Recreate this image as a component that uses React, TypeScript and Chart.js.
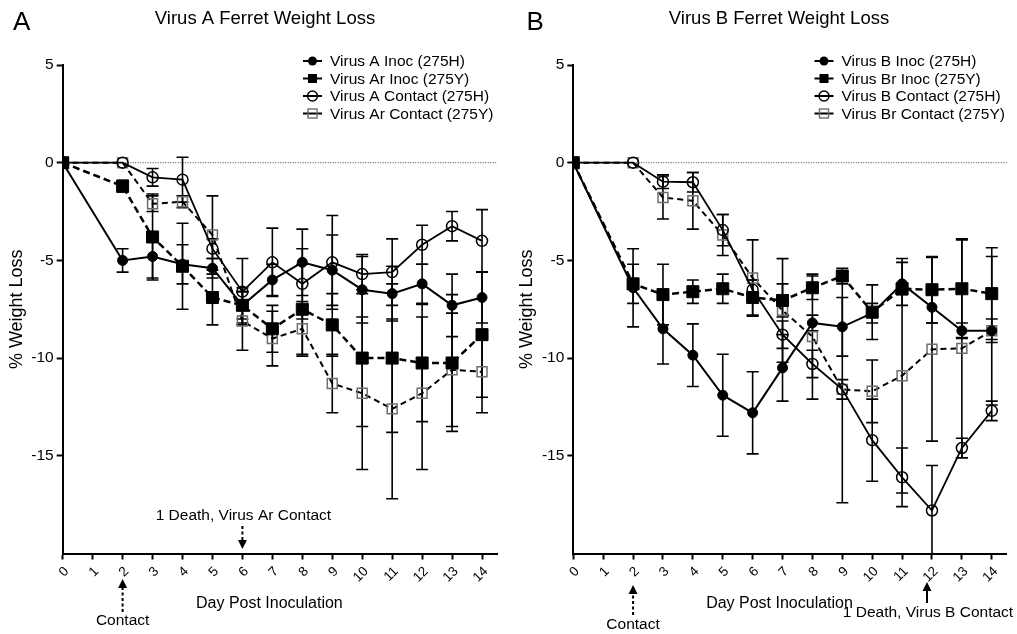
import React, { useEffect, useRef } from "react";
import { Chart, registerables } from "chart.js";

Chart.register(...registerables);

const FONT = "'Liberation Sans', Arial, Helvetica, sans-serif";
Chart.defaults.font.family = FONT;
Chart.defaults.color = "#000";

// ---------- DATA ----------
const days = [0, 1, 2, 3, 4, 5, 6, 7, 8, 9, 10, 11, 12, 13, 14];
const yTickValues = [5, 0, -5, -10, -15];

// Panel A
const virusAInoc = [0, null, -5.0, -4.8, -5.2, -5.4, -7.3, -6.0, -5.1, -5.5, -6.5, -6.7, -6.2, -7.3, -6.9];
const virusAInocErr = [0, null, 0.6, 1.1, 1.0, 0.5, 0.7, 0.8, 1.7, 1.8, 1.7, 1.4, 1.0, 1.6, 1.3];
const virusArInoc = [0, null, -1.2, -3.8, -5.3, -6.9, -7.3, -8.5, -7.5, -8.3, -10.0, -10.0, -10.25, -10.25, -8.8];
const virusArInocErr = [0, null, 0.3, 2.2, 2.2, 1.4, 0.9, 1.2, 2.3, 1.6, 3.5, 3.8, 3.0, 3.5, 3.2];
const virusAContact = [0, null, 0, -0.75, -0.87, -4.4, -6.6, -5.1, -6.2, -5.1, -5.7, -5.6, -4.2, -3.25, -4.0];
const virusAContactErr = [0, null, 0, 0.45, 1.15, 0.5, 1.7, 1.75, 1.8, 2.4, 1.0, 1.7, 1.0, 0.75, 1.6];
const virusArContact = [0, null, 0, -2.1, -2.0, -3.7, -8.1, -9.0, -8.5, -11.3, -11.8, -12.6, -11.8, -10.6, -10.7];
const virusArContactErr = [0, null, 0, 0.4, 0.3, 2.0, 1.5, 1.4, 1.4, 1.5, 3.9, 4.6, 3.9, 2.9, 2.1];

// Panel B
const virusBInoc = [0, null, -6.4, -8.5, -9.85, -11.9, -12.8, -10.5, -8.2, -8.4, -7.7, -6.2, -7.4, -8.6, -8.6];
const virusBInocErr = [0, null, 2.0, 1.8, 1.6, 2.1, 2.1, 1.7, 0.4, 1.5, 0.5, 1.1, 0.8, 0.4, 0.6];
const virusBrInoc = [0, null, -6.2, -6.75, -6.6, -6.45, -6.9, -7.05, -6.4, -5.8, -7.65, -6.45, -6.5, -6.45, -6.7];
const virusBrInocErr = [0, null, 1.0, 1.55, 0.6, 0.75, 0.9, 0.85, 0.6, 0.4, 1.4, 0.3, 1.7, 2.5, 2.35];
const virusBContact = [0, null, 0, -0.97, -1.0, -3.45, -6.5, -8.8, -10.3, -11.6, -14.2, -16.1, -17.8, -14.6, -12.7];
const virusBContactErr = [0, null, 0, 0.35, 0.5, 0.8, 0.5, 0.7, 0.7, 5.8, 2.1, 1.5, 2.3, 0.5, 0.5];
const virusBrContact = [0, null, 0, -1.78, -1.95, -3.7, -5.9, -7.56, -8.9, -11.6, -11.7, -10.9, -9.55, -9.5, -8.6];
const virusBrContactErr = [0, null, 0, 1.1, 1.45, 1.05, 1.95, 2.65, 3.2, 0.5, 1.6, 6.0, 4.7, 5.6, 3.8];

// ---------- TYPES ----------
type Kind = "inocH" | "inocY" | "contH" | "contY";
interface SeriesDef {
  label: string;
  kind: Kind;
  values: (number | null)[];
  errors: (number | null)[];
}
interface Annot {
  text: string;
  day: number;
  dx: number;
  textY: number;
  tipY: number;
  tailY: number;
  dashed: boolean;
  textDx: number;
  fontSize: number;
}
interface PanelDef {
  left: number;
  width: number;
  yAxisWidth: number;
  rightPad: number;
  letter: string;
  letterX: number;
  title: string;
  titleX: number;
  legendX: number;
  series: SeriesDef[];
  annots: Annot[];
  yTitlePad: number;
}

const panelA: PanelDef = {
  left: 0,
  width: 508,
  yAxisWidth: 62.7,
  rightPad: 11,
  letter: "A",
  letterX: 13,
  title: "Virus A Ferret Weight Loss",
  titleX: 265,
  legendX: 312.5,
  yTitlePad: 6,
  series: [
    { label: "Virus A Inoc (275H)", kind: "inocH", values: virusAInoc, errors: virusAInocErr },
    { label: "Virus Ar Inoc (275Y)", kind: "inocY", values: virusArInoc, errors: virusArInocErr },
    { label: "Virus A Contact (275H)", kind: "contH", values: virusAContact, errors: virusAContactErr },
    { label: "Virus Ar Contact (275Y)", kind: "contY", values: virusArContact, errors: virusArContactErr },
  ],
  annots: [
    { text: "1 Death, Virus Ar Contact", day: 6, dx: 0, textY: 516, tipY: 549, tailY: 526, dashed: true, textDx: 1, fontSize: 15.5 },
    { text: "Contact", day: 2, dx: 0, textY: 621, tipY: 579, tailY: 612, dashed: true, textDx: 0, fontSize: 15.5 },
  ],
};

const panelB: PanelDef = {
  left: 508,
  width: 509,
  yAxisWidth: 65.3,
  rightPad: 10.3,
  letter: "B",
  letterX: 18.5,
  title: "Virus B Ferret Weight Loss",
  titleX: 271,
  legendX: 316,
  yTitlePad: 8,
  series: [
    { label: "Virus B Inoc (275H)", kind: "inocH", values: virusBInoc, errors: virusBInocErr },
    { label: "Virus Br Inoc (275Y)", kind: "inocY", values: virusBrInoc, errors: virusBrInocErr },
    { label: "Virus B Contact (275H)", kind: "contH", values: virusBContact, errors: virusBContactErr },
    { label: "Virus Br Contact (275Y)", kind: "contY", values: virusBrContact, errors: virusBrContactErr },
  ],
  annots: [
    { text: "Contact", day: 2, dx: 0, textY: 625, tipY: 585, tailY: 615, dashed: true, textDx: 0, fontSize: 15.5 },
    { text: "1 Death, Virus B Contact", day: 12, dx: -5, textY: 613, tipY: 582, tailY: 603, dashed: false, textDx: -4, fontSize: 15.5 },
  ],
};

// ---------- HELPERS ----------
function buildDataset(s: SeriesDef) {
  const data = days
    .map((d, i) => (s.values[i] == null ? null : { x: d, y: s.values[i] as number, err: (s.errors[i] ?? 0) as number }))
    .filter((p) => p !== null);
  const base: any = {
    label: s.label,
    data,
    borderColor: "#000",
    fill: false,
    tension: 0,
    pointHoverRadius: 0,
  };
  if (s.kind === "inocH") {
    return { ...base, borderWidth: 2, pointStyle: "circle", pointRadius: 5, pointBackgroundColor: "#000", pointBorderColor: "#000", pointBorderWidth: 1 };
  }
  if (s.kind === "inocY") {
    return { ...base, borderWidth: 2.5, borderDash: [7, 4], pointStyle: "rect", pointRadius: 8.5, pointBackgroundColor: "#000", pointBorderColor: "#000", pointBorderWidth: 1 };
  }
  if (s.kind === "contH") {
    return { ...base, borderWidth: 1.8, pointStyle: "circle", pointRadius: 5.5, pointBackgroundColor: "rgba(0,0,0,0)", pointBorderColor: "#000", pointBorderWidth: 1.5 };
  }
  return { ...base, borderWidth: 2, borderDash: [6, 4], pointStyle: "rect", pointRadius: 7, pointBackgroundColor: "rgba(0,0,0,0)", pointBorderColor: "#6e6e6e", pointBorderWidth: 1.5 };
}

const errorBarPlugin = {
  id: "errorBars",
  beforeDatasetsDraw(chart: any) {
    const { ctx, chartArea, scales } = chart;
    const xs = scales.x;
    const ys = scales.y;
    ctx.save();
    // zero reference line (dotted)
    const y0 = ys.getPixelForValue(0);
    ctx.strokeStyle = "#444";
    ctx.lineWidth = 1;
    ctx.setLineDash([1, 1.5]);
    ctx.beginPath();
    ctx.moveTo(chartArea.left, y0);
    ctx.lineTo(chartArea.right, y0);
    ctx.stroke();
    ctx.setLineDash([]);
    ctx.beginPath();
    ctx.rect(chartArea.left - 20, chartArea.top - 20, chartArea.width + 40, chartArea.height + 20);
    ctx.clip();
    ctx.strokeStyle = "#000";
    ctx.lineWidth = 1.6;
    chart.data.datasets.forEach((ds: any) => {
      ds.data.forEach((p: any) => {
        if (!p || !p.err) return;
        const px = xs.getPixelForValue(p.x);
        const top = ys.getPixelForValue(p.y + p.err);
        const bot = ys.getPixelForValue(p.y - p.err);
        ctx.beginPath();
        ctx.moveTo(px, top);
        ctx.lineTo(px, bot);
        ctx.moveTo(px - 6, top);
        ctx.lineTo(px + 6, top);
        if (bot <= chartArea.bottom) {
          ctx.moveTo(px - 6, bot);
          ctx.lineTo(px + 6, bot);
        }
        ctx.stroke();
      });
    });
    ctx.restore();
  },
};

function drawMarker(ctx: CanvasRenderingContext2D, kind: Kind, x: number, y: number) {
  ctx.save();
  ctx.setLineDash([]);
  if (kind === "inocH") {
    ctx.fillStyle = "#000";
    ctx.beginPath();
    ctx.arc(x, y, 4.5, 0, Math.PI * 2);
    ctx.fill();
  } else if (kind === "inocY") {
    ctx.fillStyle = "#000";
    ctx.fillRect(x - 4.5, y - 4.5, 9, 9);
  } else if (kind === "contH") {
    ctx.strokeStyle = "#000";
    ctx.lineWidth = 1.4;
    ctx.beginPath();
    ctx.arc(x, y, 5, 0, Math.PI * 2);
    ctx.stroke();
  } else {
    ctx.strokeStyle = "#6e6e6e";
    ctx.lineWidth = 1.4;
    ctx.strokeRect(x - 4.5, y - 4.5, 9, 9);
  }
  ctx.restore();
}

function drawArrow(ctx: CanvasRenderingContext2D, x: number, tipY: number, tailY: number, dashed: boolean) {
  const dir = tailY > tipY ? 1 : -1; // 1 => arrow points up
  const headLen = 9;
  const baseY = tipY + dir * headLen;
  ctx.save();
  ctx.strokeStyle = "#000";
  ctx.fillStyle = "#000";
  ctx.lineWidth = 2;
  ctx.setLineDash(dashed ? [3, 2.5] : []);
  ctx.beginPath();
  ctx.moveTo(x, tailY);
  ctx.lineTo(x, baseY);
  ctx.stroke();
  ctx.setLineDash([]);
  ctx.beginPath();
  ctx.moveTo(x, tipY);
  ctx.lineTo(x - 4.5, baseY);
  ctx.lineTo(x + 4.5, baseY);
  ctx.closePath();
  ctx.fill();
  ctx.restore();
}

function makeDecoPlugin(p: PanelDef) {
  return {
    id: "deco",
    afterDraw(chart: any) {
      const { ctx, scales } = chart;
      const xs = scales.x;
      ctx.save();
      ctx.fillStyle = "#000";
      // panel letter
      ctx.font = `26px ${FONT}`;
      ctx.textAlign = "left";
      ctx.textBaseline = "middle";
      ctx.fillText(p.letter, p.letterX, 23);
      // title
      ctx.font = `18.5px ${FONT}`;
      ctx.textAlign = "center";
      ctx.fillText(p.title, p.titleX, 19);
      // legend
      ctx.font = `15.5px ${FONT}`;
      ctx.textAlign = "left";
      p.series.forEach((s, i) => {
        const y = 61 + i * 17.5;
        ctx.strokeStyle = "#000";
        ctx.lineWidth = 2;
        ctx.setLineDash([]);
        ctx.beginPath();
        ctx.moveTo(p.legendX - 9.5, y);
        ctx.lineTo(p.legendX + 9.5, y);
        ctx.stroke();
        drawMarker(ctx, s.kind, p.legendX, y);
        ctx.fillStyle = "#000";
        ctx.fillText(s.label, p.legendX + 17.5, y + 1);
      });
      // x-axis title
      ctx.font = `16px ${FONT}`;
      ctx.textAlign = "center";
      ctx.fillText("Day Post Inoculation", xs.getPixelForValue(7) - 3, 604);
      // annotations
      p.annots.forEach((a) => {
        const ax = xs.getPixelForValue(a.day) + a.dx;
        drawArrow(ctx, ax, a.tipY, a.tailY, a.dashed);
        ctx.font = `${a.fontSize}px ${FONT}`;
        ctx.textAlign = "center";
        ctx.fillStyle = "#000";
        ctx.fillText(a.text, xs.getPixelForValue(a.day) + a.textDx, a.textY);
      });
      ctx.restore();
    },
  };
}

function Panel({ def }: { def: PanelDef }) {
  const ref = useRef<HTMLCanvasElement>(null);
  useEffect(() => {
    const canvas = ref.current;
    if (!canvas) return;
    const chart = new Chart(canvas, {
      type: "line",
      data: { datasets: def.series.map(buildDataset) },
      options: {
        responsive: false,
        animation: false,
        devicePixelRatio: 1,
        layout: { padding: { left: 0, right: def.rightPad, top: 65, bottom: 0 } },
        plugins: { legend: { display: false }, tooltip: { enabled: false }, title: { display: false } },
        events: [],
        scales: {
          x: {
            type: "linear",
            min: 0,
            max: 14.5,
            afterBuildTicks: (s: any) => {
              s.ticks = days.map((d) => ({ value: d }));
            },
            afterFit: (s: any) => {
              s.height = 80.5;
            },
            ticks: {
              autoSkip: false,
              minRotation: 45,
              maxRotation: 45,
              padding: 4,
              labelOffset: 4,
              color: "#000",
              font: { size: 13.5, family: FONT },
              callback: (v: any) => String(v),
            },
            grid: { display: true, drawOnChartArea: false, drawTicks: true, tickLength: 6, tickColor: "#000", tickWidth: 2, color: "#000" },
            border: { display: true, color: "#000", width: 2 },
          },
          y: {
            type: "linear",
            min: -20,
            max: 5,
            afterBuildTicks: (s: any) => {
              s.ticks = yTickValues.map((v) => ({ value: v }));
            },
            afterFit: (s: any) => {
              s.width = def.yAxisWidth;
            },
            ticks: {
              padding: 3,
              color: "#000",
              font: { size: 15.5, family: FONT },
              callback: (v: any) => String(v),
            },
            grid: { display: true, drawOnChartArea: false, drawTicks: true, tickLength: 6, tickColor: "#000", tickWidth: 2, color: "#000" },
            border: { display: true, color: "#000", width: 2 },
            title: { display: true, text: "% Weight Loss", color: "#000", font: { size: 18, family: FONT }, padding: { top: def.yTitlePad, bottom: 0 } },
          },
        },
      } as any,
      plugins: [errorBarPlugin, makeDecoPlugin(def)],
    });
    return () => chart.destroy();
  }, [def]);
  return (
    <canvas
      ref={ref}
      width={def.width}
      height={634}
      style={{ position: "absolute", left: def.left, top: 0, width: def.width, height: 634, display: "block" }}
    />
  );
}

export default function App() {
  return (
    <div style={{ position: "fixed", left: 0, top: 0, width: 1017, height: 634, background: "#fff", overflow: "hidden" }}>
      <Panel def={panelA} />
      <Panel def={panelB} />
    </div>
  );
}
